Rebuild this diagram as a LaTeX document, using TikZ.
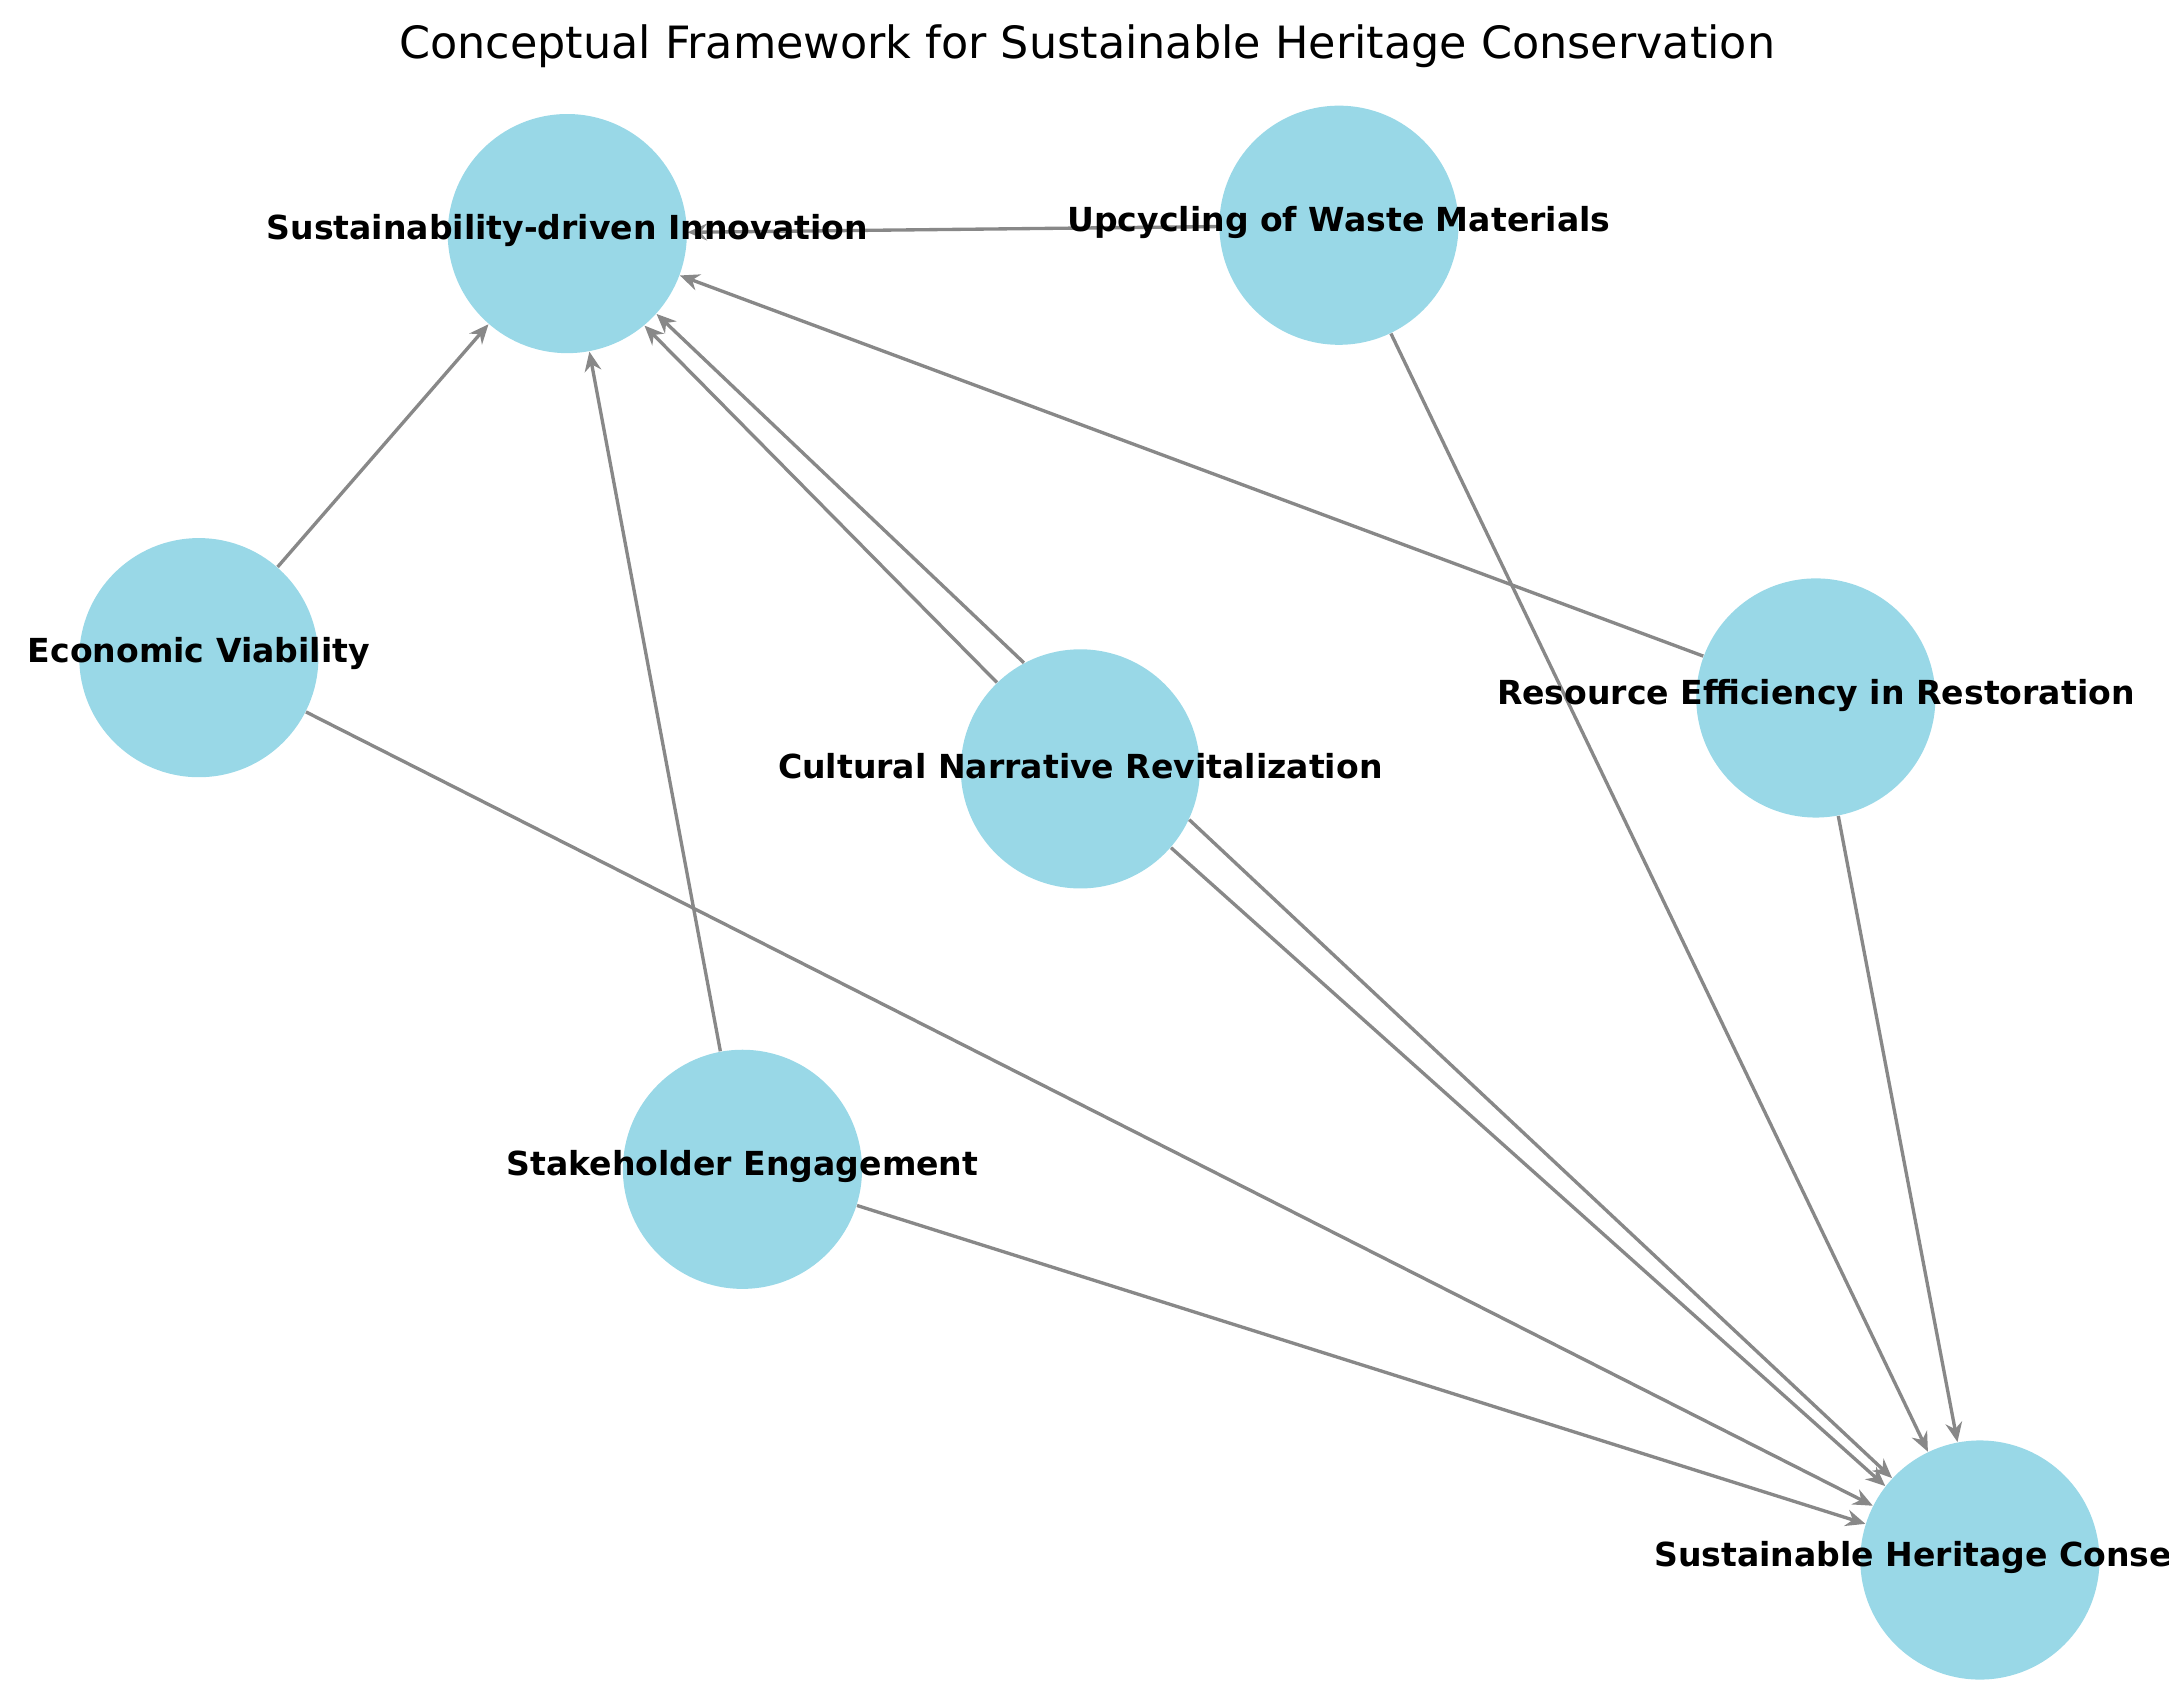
\documentclass[tikz,border=0pt]{standalone}
\usepackage{fontspec}
\setmainfont{DejaVu Sans}
\usetikzlibrary{arrows.meta}
\definecolor{nodeblue}{HTML}{99D8E7}
\definecolor{edgegray}{HTML}{888888}
\begin{document}
\begin{tikzpicture}[x=0.5pt,y=-0.5pt,
  circ/.style={circle,fill=nodeblue,minimum size=172pt*0.5,inner sep=0pt},
  lbl/.style={font=\bfseries\fontsize{11.9}{14}\selectfont,inner sep=0pt},
  edge/.style={draw=edgegray,line width=1.2pt,-{Stealth[length=7pt,width=6pt]}}]
\useasboundingbox (0,0) rectangle (1560,1214);
\clip (0,0) rectangle (1560,1214);
\node[font=\fontsize{16}{19}\selectfont] (title) at (782,33) {Conceptual Framework for Sustainable Heritage Conservation};
\node[circ] (sdi) at (408,168) {};
\node[circ] (up) at (963,162) {};
\node[circ] (eco) at (143,473) {};
\node[circ] (cul) at (777,553) {};
\node[circ] (res) at (1306,502) {};
\node[circ] (sta) at (534,841) {};
\node[circ] (shc) at (1424,1122) {};
\draw[edge] (eco) -- (sdi);
\draw[edge] (sta) -- (sdi);
\draw[edge] (up) -- (sdi);
\draw[edge] (res) -- (sdi);
\draw[edge] (cul.118) -- (sdi.-42);
\draw[edge] (cul.134) -- (sdi.-50);
\draw[edge] (cul.-25) -- (shc.137);
\draw[edge] (cul.-41) -- (shc.142);
\draw[edge] (eco) -- (shc);
\draw[edge] (sta) -- (shc);
\draw[edge] (up) -- (shc);
\draw[edge] (res) -- (shc);
\node[lbl] (l1) at (408,166) {Sustainability-driven Innovation};
\node[lbl] (l2) at (963,160) {Upcycling of Waste Materials};
\node[lbl] (l3) at (143,470) {Economic Viability};
\node[lbl] (l4) at (777,551) {Cultural Narrative Revitalization};
\node[lbl] (l5) at (1306,500) {Resource Efficiency in Restoration};
\node[lbl] (l6) at (534,839) {Stakeholder Engagement};
\node[lbl] (l7) at (1424,1120) {Sustainable Heritage Conservation};
\end{tikzpicture}
\end{document}
